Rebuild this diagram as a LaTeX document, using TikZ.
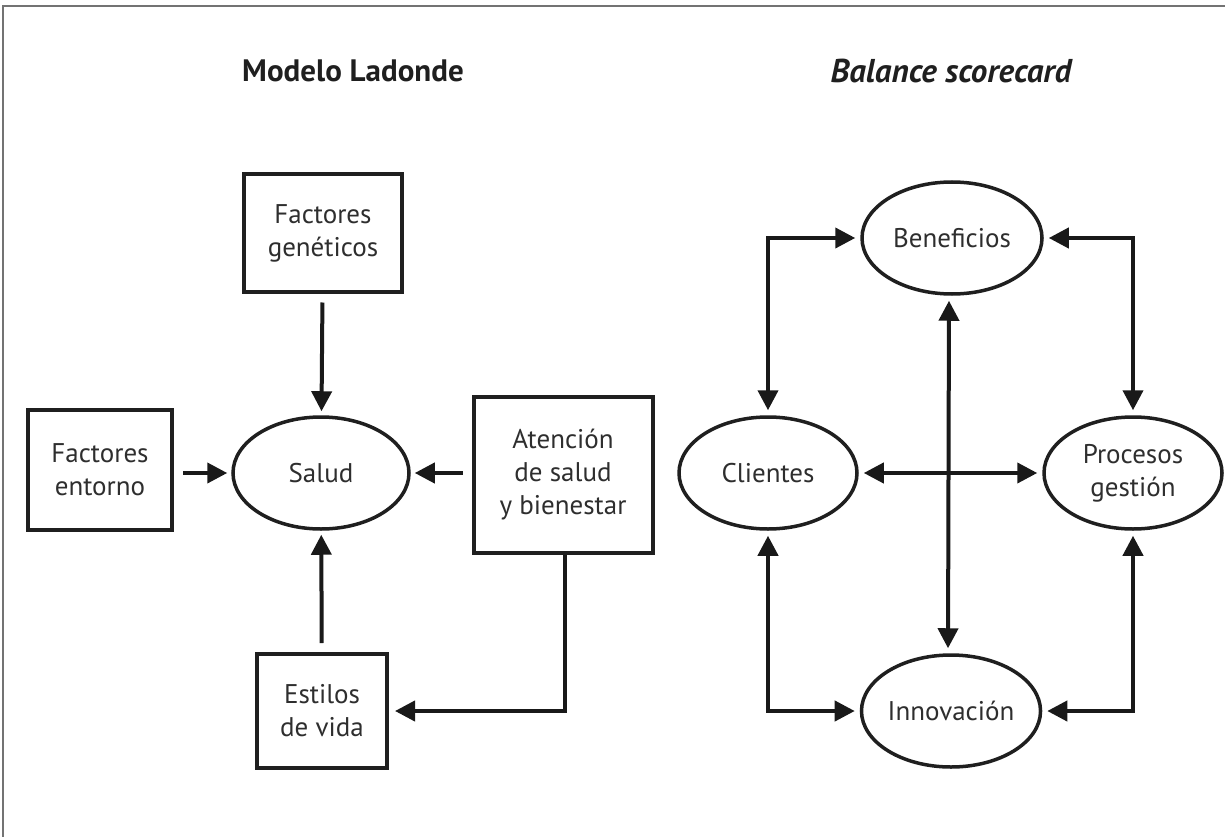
\documentclass[tikz,border=0pt]{standalone}
\usepackage{fontspec}
\setmainfont{PT Sans}
\usetikzlibrary{shapes.geometric,arrows.meta}
\begin{document}
\begin{tikzpicture}[x=1pt,y=-1pt,
  every node/.style={font=\fontsize{27}{33}\selectfont, text=black!82, align=center},
  boxnode/.style={draw=black!88, line width=4pt, rectangle, inner sep=0pt},
  ellnode/.style={draw=black!88, line width=3.5pt, ellipse, inner sep=0pt, minimum width=178pt, minimum height=112pt},
  titlenode/.style={font=\fontsize{31}{36}\selectfont\bfseries, text=black!88},
  conn/.style={line width=4pt, draw=black!90, -{Triangle[length=20pt,width=20pt]}, shorten >=4pt, shorten <=9pt},
  dconn/.style={line width=4pt, draw=black!90, {Triangle[length=20pt,width=20pt]}-{Triangle[length=20pt,width=20pt]}, shorten >=5pt, shorten <=5pt},
  frame/.style={draw=black!55, line width=2pt}
]
\useasboundingbox (0,0) rectangle (1225,837);
\draw[frame] (3,837) -- (3,6) -- (1225,6);

% titles
\node[titlenode] (t1) at (353,71) {Modelo Ladonde};
\node[titlenode, font=\fontsize{33}{36}\selectfont\bfseries\itshape] (t2) at (951,71) {Balance scorecard};

% left diagram
\node[boxnode, minimum width=158pt, minimum height=117pt] (gen) at (323,233) {Factores\\genéticos};
\node[ellnode, minimum width=176pt] (sal) at (321,473) {Salud};
\node[boxnode, minimum width=144pt, minimum height=120pt] (ent) at (100,470) {Factores\\entorno};
\node[boxnode, minimum width=179pt, minimum height=156pt] (ate) at (563,475) {Atención\\de salud\\y bienestar};
\node[boxnode, minimum width=130pt, minimum height=114pt] (est) at (322,711) {Estilos\\de vida};
\coordinate (corner) at (565,711);

\draw[conn] (gen) -- (sal);
\draw[conn] (ent.east |- sal) -- (sal);
\draw[conn] (ate.west |- sal) -- (sal);
\draw[conn] (est) -- (sal);
\draw[conn, shorten <=0pt, shorten >=6pt] (ate.south -| corner) -- (corner) -- (est.east |- corner);

% right diagram
\node[ellnode, minimum width=180pt] (ben) at (952,238) {Beneficios};
\node[ellnode] (cli) at (768,473) {Clientes};
\node[ellnode] (pro) at (1133,473) {Procesos\\gestión};
\node[ellnode, minimum width=178pt] (inn) at (951,711) {Innovación};

\draw[dconn] (cli) |- (ben);
\draw[dconn] (ben) -| (pro);
\draw[dconn] (cli) -- (pro);
\draw[dconn] ([xshift=-3pt]ben.south) -- ([xshift=-3pt]inn.north);
\draw[dconn] (cli) |- (inn);
\draw[dconn] (pro) |- (inn);
\end{tikzpicture}
\end{document}
